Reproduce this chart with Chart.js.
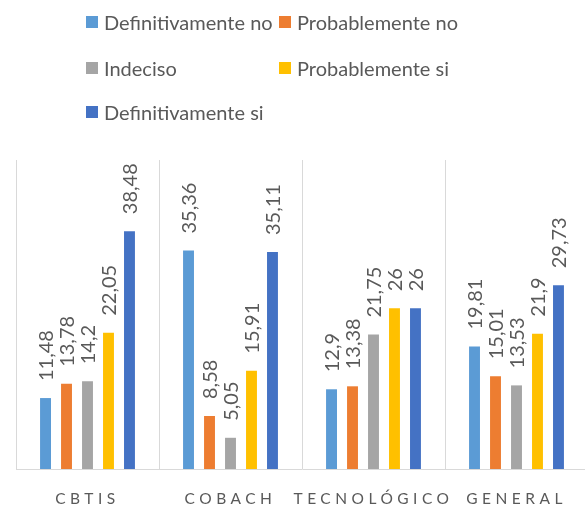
<!DOCTYPE html>
<html>
<head>
<meta charset="utf-8">
<script src="https://cdn.jsdelivr.net/npm/chart.js@4"></script>
<style>
  html, body { margin: 0; padding: 0; background: #fff; overflow: hidden; }
  #wrap { position: relative; width: 585px; height: 506px; overflow: hidden; }
  #chart { position: absolute; left: 0; top: 0; }
  #legend { position: absolute; left: 0; top: 0; width: 585px; font-family: Lato, sans-serif; font-size: 20px; color: #595959; }
  .item { position: absolute; display: flex; align-items: center; height: 24px; white-space: nowrap; }
  .box { width: 12px; height: 12px; margin-right: 6px; }
</style>
</head>
<body>
<div id="wrap">
  <canvas id="chart" width="588" height="506"></canvas>
  <div id="legend"></div>
</div>
<script>
const categories = ["CBTIS", "COBACH", "TECNOLÓGICO", "GENERAL"];
const seriesNames = ["Definitivamente no", "Probablemente no", "Indeciso", "Probablemente si", "Definitivamente si"];
const definitivamenteNo = [11.48, 35.36, 12.9, 19.81];
const probablementeNo = [13.78, 8.58, 13.38, 15.01];
const indeciso = [14.2, 5.05, 21.75, 13.53];
const probablementeSi = [22.05, 15.91, 26, 21.9];
const definitivamenteSi = [38.48, 35.11, 26, 29.73];
const colors = ["#5b9bd5", "#ed7d31", "#a5a5a5", "#ffc000", "#4472c4"];

const values = [definitivamenteNo, probablementeNo, indeciso, probablementeSi, definitivamenteSi];

// data labels, rotated, above each bar
const barLabels = {
  id: "barLabels",
  afterDatasetsDraw(chart) {
    const ctx = chart.ctx;
    ctx.save();
    ctx.font = "20px Lato, sans-serif";
    ctx.fillStyle = "#595959";
    ctx.textAlign = "left";
    ctx.textBaseline = "middle";
    chart.data.datasets.forEach((ds, i) => {
      chart.getDatasetMeta(i).data.forEach((bar, j) => {
        ctx.save();
        ctx.translate(bar.x + 1, bar.y - 17);
        ctx.rotate(-Math.PI / 2);
        ctx.fillText(String(ds.data[j]).replace(".", ","), 0, 0);
        ctx.restore();
      });
    });
    ctx.restore();
  }
};

// spaced-out category labels
const spacedTicks = {
  id: "spacedTicks",
  beforeDraw(chart) { chart.ctx.letterSpacing = "4.5px"; },
  beforeDatasetsDraw(chart) { chart.ctx.letterSpacing = "0px"; }
};

const chart = new Chart(document.getElementById("chart"), {
  type: "bar",
  data: {
    labels: categories,
    datasets: seriesNames.map((name, i) => ({
      label: name,
      data: values[i],
      backgroundColor: colors[i],
      categoryPercentage: 0.734,
      barPercentage: 0.52
    }))
  },
  options: {
    responsive: false,
    animation: false,
    layout: { padding: { top: 160, left: 16, right: 0, bottom: -22.6 } },
    plugins: { legend: { display: false }, tooltip: { enabled: false } },
    scales: {
      x: {
        grid: { color: "#d9d9d9", offset: true, drawTicks: false },
        border: { color: "#d9d9d9" },
        ticks: {
          color: "#595959",
          font: { family: "Lato, sans-serif", size: 15.5 },
          padding: 20.5,
          maxRotation: 0
        }
      },
      y: { display: false, min: 0, max: 50 }
    }
  },
  plugins: [barLabels, spacedTicks]
});

// legend laid out in two columns
const legend = document.getElementById("legend");
const colX = [86, 279];
const rowY = [10, 56, 100];
chart.data.datasets.forEach((ds, i) => {
  const item = document.createElement("div");
  item.className = "item";
  item.style.left = colX[i % 2] + "px";
  item.style.top = rowY[Math.floor(i / 2)] + "px";
  item.innerHTML = `<span class="box" style="background:${ds.backgroundColor}"></span><span>${ds.label}</span>`;
  legend.appendChild(item);
});
</script>
</body>
</html>
